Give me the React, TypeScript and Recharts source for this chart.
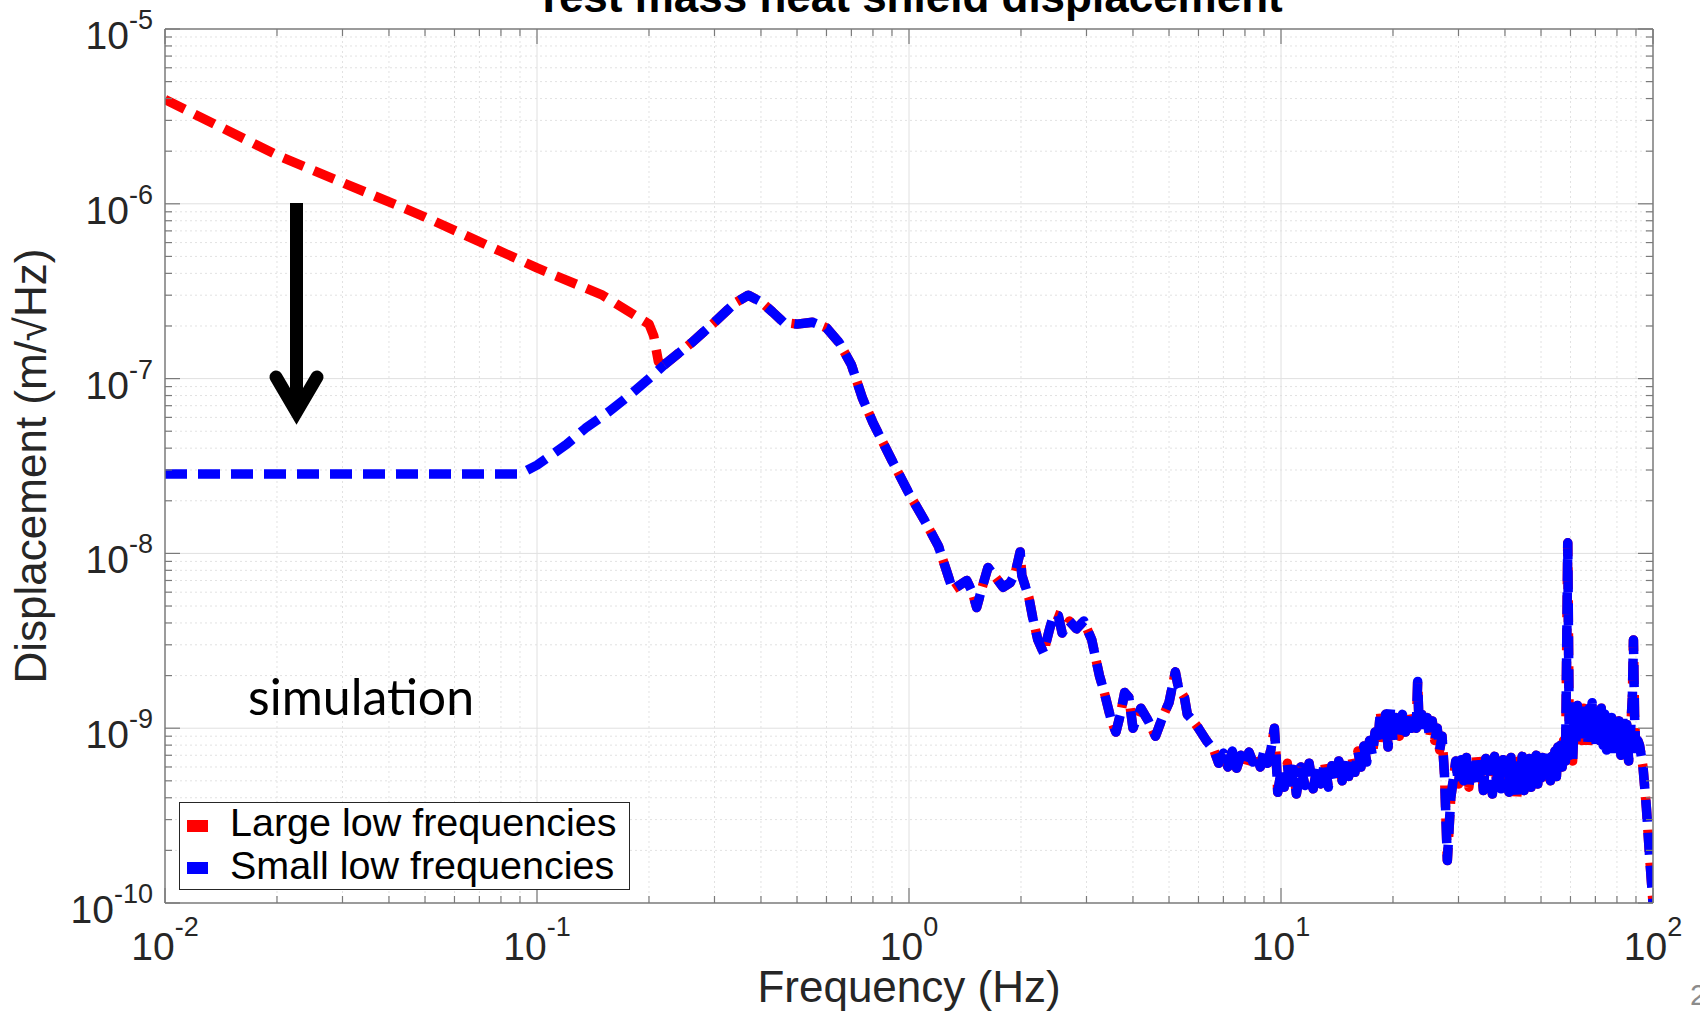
import React from "react";
import { LineChart, Line, XAxis, YAxis, ReferenceLine, Legend } from "recharts";

// low-frequency part of each curve (Hz, m/rtHz)
const largeLowFreq = [0.01, 0.02, 0.05, 0.1, 0.15, 0.2, 0.206, 0.212, 0.22];
const largeLowDisp = [3.95e-6, 1.9e-6, 8.4e-7, 4.3e-7, 3.0e-7, 2.05e-7, 1.75e-7, 1.25e-7, 1.2e-7];

const smallLowFreq = [0.01, 0.05, 0.09, 0.1, 0.12, 0.135, 0.155, 0.177, 0.2, 0.22];
const smallLowDisp = [2.85e-8, 2.85e-8, 2.85e-8, 3.2e-8, 4.2e-8, 5.2e-8, 6.4e-8, 8.0e-8, 1.0e-7, 1.2e-7];

// above ~0.22 Hz both curves are the same
const sharedFreq = [
  0.22, 0.26, 0.3, 0.34, 0.37, 0.4, 0.43, 0.46, 0.5, 0.55, 0.6, 0.65, 0.7, 0.75, 0.8, 0.9, 1.0, 1.1, 1.2,
  1.26, 1.31, 1.37, 1.43, 1.48, 1.52, 1.57, 1.63, 1.71, 1.79, 1.87, 1.93, 1.99, 2.01, 2.1, 2.15, 2.22, 2.3,
  2.38, 2.45, 2.52, 2.58, 2.7, 2.82, 2.95, 3.1, 3.25, 3.35, 3.5, 3.6, 3.7, 3.8, 3.9, 4.0, 4.2, 4.4, 4.6,
  4.8, 5.0, 5.2, 5.3, 5.5, 5.6, 5.8, 6.0, 6.3,
  6.6, 6.8, 7.0, 7.2, 7.4, 7.6, 7.8, 8.0, 8.2, 8.4, 8.6, 8.8, 9.0, 9.2, 9.4, 9.6, 9.7, 9.8,
  10.0, 10.2, 10.4, 10.6, 10.8, 11.0, 11.3, 11.6, 11.9, 12.2, 12.5, 12.8, 13.1, 13.4, 13.7, 14.0, 14.3,
  14.6, 14.9, 15.2, 15.5, 15.8, 16.1, 16.4, 16.7, 17.0, 17.3, 17.6, 17.9, 18.2, 18.5, 18.8, 19.1, 19.4,
  19.7, 20.0, 20.4, 20.8, 21.2, 21.6, 22.0, 22.4, 22.8, 23.1, 23.3, 23.5, 23.9, 24.3, 24.7, 25.1, 25.5,
  25.9, 26.3, 26.7, 27.1, 27.5, 28.0, 28.6, 29.2,
  29.5, 30.0, 30.5, 31.0, 31.5, 32.0, 32.5, 33.0, 33.5, 34.0, 34.5, 35.0, 35.5, 36.0, 36.5, 37.0, 37.5,
  38.0, 38.5, 39.0, 39.5, 40.0, 40.5, 41.0, 41.5, 42.0, 42.5, 43.0, 43.5, 44.0, 44.5, 45.0, 45.5, 46.0,
  46.5, 47.0, 47.5, 48.0, 48.5, 49.0, 49.5, 50.0, 50.5, 51.0, 51.5, 52.0, 52.5, 53.0, 53.5, 54.0, 54.5,
  55.0, 55.5, 56.0, 56.5, 57.0, 57.5, 58.2, 59.0, 59.6, 60.2, 60.8, 61.4, 62.0, 62.6, 63.2, 63.8, 64.4,
  65.0, 65.6, 66.2, 66.8, 67.4, 68.0, 68.6, 69.2, 69.8, 70.4, 71.0, 71.8, 72.6, 73.4, 74.2, 75.0, 75.8,
  76.6, 77.4, 78.2, 79.0, 80.0, 81.0, 82.0, 83.0, 84.0, 85.0, 86.0, 87.0, 88.0, 88.6, 89.2, 90.0, 91.0,
  92.0, 94.0, 96.0, 98.0, 100,
];
const sharedDisp = [
  1.2e-7, 1.6e-7, 2.1e-7, 2.7e-7, 3.0e-7, 2.75e-7, 2.4e-7, 2.1e-7, 2.05e-7, 2.1e-7, 1.95e-7, 1.6e-7, 1.2e-7,
  7.7e-8, 5.6e-8, 3.4e-8, 2.2e-8, 1.55e-8, 1.1e-8,
  8e-9, 6.2e-9, 6.6e-9, 7.0e-9, 6.0e-9, 4.9e-9, 6.3e-9, 8.3e-9, 7.3e-9, 6.4e-9, 6.8e-9, 7.7e-9, 1.02e-8,
  7.5e-9, 5.6e-9, 4.3e-9, 3.2e-9, 2.7e-9, 3.6e-9, 4.5e-9, 4.4e-9, 3.5e-9, 4.1e-9, 3.7e-9, 4.1e-9, 3.2e-9,
  2.0e-9, 1.6e-9, 1.1e-9, 9.5e-10, 1.2e-9, 1.6e-9, 1.5e-9, 1.0e-9, 1.3e-9, 1.1e-9, 9e-10, 1.15e-9, 1.4e-9,
  2.1e-9, 1.7e-9, 1.5e-9, 1.2e-9, 1.1e-9, 1.0e-9, 8.5e-10,
  7.5e-10, 6.3e-10, 7.2e-10, 6.0e-10, 7.4e-10, 5.9e-10, 7.0e-10, 6.1e-10, 7.3e-10, 6.4e-10, 7.0e-10, 6.0e-10,
  7.4e-10, 6.3e-10, 7.6e-10, 1.0e-9, 7.0e-10, 4.3e-10,
  5.6e-10, 4.6e-10, 6.3e-10, 4.4e-10, 5.8e-10, 4.2e-10, 6.0e-10, 4.7e-10, 6.3e-10, 4.5e-10, 5.9e-10, 4.8e-10,
  6.4e-10, 4.6e-10, 6.1e-10, 4.9e-10, 6.5e-10,
  5.0e-10, 6.6e-10, 5.3e-10, 6.9e-10, 5.6e-10, 7.4e-10, 6.0e-10, 7.9e-10, 6.4e-10, 8.5e-10, 7.0e-10, 9.5e-10,
  8.0e-10, 1.25e-9, 8.5e-10, 1.2e-9, 7.8e-10,
  1.3e-9, 8.5e-10, 1.15e-9, 9.0e-10, 1.2e-9, 9.5e-10, 1.25e-9, 1.0e-9, 1.2e-9, 1.0e-9, 1.85e-9, 1.05e-9,
  1.2e-9, 9.5e-10, 1.15e-9, 8.8e-10, 1.1e-9,
  8.5e-10, 1.0e-9, 7.5e-10, 9.0e-10, 5.5e-10, 1.75e-10, 4.0e-10, 5.5e-10,
  6.5e-10, 4.8e-10, 6.6e-10, 5.0e-10, 6.8e-10, 4.6e-10, 6.4e-10, 5.2e-10, 7.0e-10, 4.7e-10, 6.2e-10, 4.4e-10,
  6.7e-10, 5.1e-10, 6.3e-10, 4.2e-10, 6.9e-10,
  4.9e-10, 6.4e-10, 4.5e-10, 6.6e-10, 5.3e-10, 6.1e-10, 4.3e-10, 6.8e-10, 4.7e-10, 6.3e-10, 3.9e-10, 6.5e-10,
  4.8e-10, 6.9e-10, 4.4e-10, 6.2e-10, 5.0e-10,
  6.7e-10, 4.6e-10, 6.4e-10, 5.1e-10, 7.0e-10, 4.8e-10, 6.5e-10, 5.2e-10, 6.8e-10, 4.9e-10, 6.6e-10, 5.4e-10,
  7.2e-10, 5.0e-10, 6.9e-10, 5.6e-10, 7.4e-10,
  5.3e-10, 7.8e-10, 5.8e-10, 8.0e-10, 6.0e-10, 8.5e-10, 6.5e-10, 1.15e-8, 7e-10, 9e-10, 6.5e-10, 1.1e-9,
  8e-10, 1.35e-9, 9.5e-10, 1.4e-9, 8.5e-10,
  1.3e-9, 9.0e-10, 1.35e-9, 8.0e-10, 1.3e-9, 9.5e-10, 1.4e-9, 8.5e-10, 1.25e-9, 7.8e-10, 1.2e-9, 8.5e-10,
  1.3e-9, 8.0e-10, 1.2e-9, 7.5e-10, 1.25e-9,
  8.2e-10, 1.15e-9, 7.2e-10, 1.2e-9, 8.0e-10, 1.1e-9, 7.0e-10, 1.15e-9, 7.5e-10, 1.05e-9, 6.5e-10, 9.5e-10,
  1.5e-9, 3.2e-9, 1.2e-9, 7e-10, 8.5e-10,
  8e-10, 6e-10, 3.5e-10, 1.8e-10, 1.0e-10,
];

const seriesNames = ["Large low frequencies", "Small low frequencies"];
const seriesColors = ["#ff0000", "#0000ff"];

const decades = [0.01, 0.1, 1, 10];
const yDecades = [1e-10, 1e-9, 1e-8, 1e-7, 1e-6];
const mult = [2, 3, 4, 5, 6, 7, 8, 9];

const xMinor = decades.flatMap((d) => mult.map((m) => +(d * m).toPrecision(3)));
const yMinor = yDecades.flatMap((d) => mult.map((m) => +(d * m).toPrecision(3)));
const xMajor = [0.01, 0.1, 1, 10, 100];
const yMajor = [1e-10, 1e-9, 1e-8, 1e-7, 1e-6, 1e-5];
const xTicks = [...xMajor, ...xMinor].sort((a, b) => a - b);
const yTicks = [...yMajor, ...yMinor].sort((a, b) => a - b);

const zip = (f: number[], v: number[]) => f.map((x, i) => ({ f: x, v: v[i] }));
const largeLow = zip(largeLowFreq, largeLowDisp);
const smallLow = zip(smallLowFreq, smallLowDisp);
const shared = zip(sharedFreq, sharedDisp);

const AXIS = "#7a7a7a";
const FONT = "'Liberation Sans', Arial, Helvetica, sans-serif";
const isMajor = (v: number) => Math.abs(Math.log10(v) - Math.round(Math.log10(v))) < 1e-6;
const expOf = (v: number) => Math.round(Math.log10(v));

const BottomTick = (p: any) => {
  const v = p.payload.value;
  const major = isMajor(v);
  return (
    <g>
      <line x1={p.x} x2={p.x} y1={p.y} y2={p.y - (major ? 15 : 7)} stroke={AXIS} strokeWidth={1.2} />
      {major && (
        <text x={p.x} y={p.y + 57} textAnchor="middle" fontFamily={FONT} fontSize={39} fill="#262626">
          10<tspan dy={-24} fontSize={27}>{expOf(v)}</tspan>
        </text>
      )}
    </g>
  );
};

const TopTick = (p: any) => {
  const major = isMajor(p.payload.value);
  return <line x1={p.x} x2={p.x} y1={p.y} y2={p.y + (major ? 15 : 7)} stroke={AXIS} strokeWidth={1.2} />;
};

const LeftTick = (p: any) => {
  const v = p.payload.value;
  const major = isMajor(v);
  return (
    <g>
      <line x1={p.x} x2={p.x + (major ? 15 : 7)} y1={p.y} y2={p.y} stroke={AXIS} strokeWidth={1.2} />
      {major && (
        <text x={p.x - 12} y={p.y + 20} textAnchor="end" fontFamily={FONT} fontSize={39} fill="#262626">
          10<tspan dy={-20} fontSize={27}>{expOf(v)}</tspan>
        </text>
      )}
    </g>
  );
};

const RightTick = (p: any) => {
  const major = isMajor(p.payload.value);
  return <line x1={p.x} x2={p.x - (major ? 15 : 7)} y1={p.y} y2={p.y} stroke={AXIS} strokeWidth={1.2} />;
};

const LegendBox = () => (
  <svg width={470} height={88} style={{ display: "block", overflow: "visible" }}>
    <rect x={0.5} y={0.5} width={450} height={87} fill="#fff" stroke="#262626" strokeWidth={1} />
    {seriesNames.map((name, i) => (
      <g key={name}>
        <rect x={8} y={18 + i * 42} width={21} height={12} fill={seriesColors[i]} />
        <text x={51} y={34 + i * 43} fontFamily={FONT} fontSize={39.5} fill="#000">
          {name}
        </text>
      </g>
    ))}
  </svg>
);

const lineProps = {
  xAxisId: "b",
  yAxisId: "l",
  dataKey: "v",
  type: "linear" as const,
  dot: false,
  activeDot: false,
  strokeWidth: 9.5,
  strokeDasharray: "22 11",
  strokeLinejoin: "round" as const,
  isAnimationActive: false,
  legendType: "none" as const,
};

export default function App() {
  return (
    <div style={{ position: "absolute", left: 0, top: 0, width: 1700, height: 1016, background: "#fff" }}>
      <LineChart width={1700} height={1016} margin={{ top: 19, right: 37, bottom: 33, left: 15 }}>
        <XAxis xAxisId="b" dataKey="f" type="number" scale="log" domain={[0.01, 100]} allowDataOverflow
          ticks={xTicks} interval={0} tick={<BottomTick />} tickLine={false} tickSize={0} tickMargin={0}
          axisLine={{ stroke: AXIS, strokeWidth: 1.5 }} height={80} />
        <XAxis xAxisId="t" orientation="top" dataKey="f" type="number" scale="log" domain={[0.01, 100]}
          allowDataOverflow ticks={xTicks} interval={0} tick={<TopTick />} tickLine={false} tickSize={0}
          tickMargin={0} axisLine={{ stroke: AXIS, strokeWidth: 1.5 }} height={10} />
        <YAxis yAxisId="l" type="number" scale="log" domain={[1e-10, 1e-5]} allowDataOverflow ticks={yTicks}
          interval={0} tick={<LeftTick />} tickLine={false} tickSize={0} tickMargin={0}
          axisLine={{ stroke: AXIS, strokeWidth: 1.5 }} width={150} />
        <YAxis yAxisId="r" orientation="right" type="number" scale="log" domain={[1e-10, 1e-5]} allowDataOverflow
          ticks={yTicks} interval={0} tick={<RightTick />} tickLine={false} tickSize={0} tickMargin={0}
          axisLine={{ stroke: AXIS, strokeWidth: 1.5 }} width={10} />

        {xMinor.map((v) => (
          <ReferenceLine key={"xm" + v} xAxisId="b" yAxisId="l" x={v} stroke="#e2e2e2" strokeDasharray="2 3" />
        ))}
        {yMinor.map((v) => (
          <ReferenceLine key={"ym" + v} xAxisId="b" yAxisId="l" y={v} stroke="#e2e2e2" strokeDasharray="2 3" />
        ))}
        {[0.1, 1, 10].map((v) => (
          <ReferenceLine key={"xM" + v} xAxisId="b" yAxisId="l" x={v} stroke="#e0e0e0" />
        ))}
        {[1e-9, 1e-8, 1e-7, 1e-6].map((v) => (
          <ReferenceLine key={"yM" + v} xAxisId="b" yAxisId="l" y={v} stroke="#e0e0e0" />
        ))}

        <Line {...lineProps} data={largeLow} name={seriesNames[0]} stroke={seriesColors[0]} />
        <Line {...lineProps} data={shared} name={seriesNames[0] + " (shared)"} stroke={seriesColors[0]}
          strokeDashoffset={3} />
        <Line {...lineProps} data={smallLow} name={seriesNames[1]} stroke={seriesColors[1]} />
        <Line {...lineProps} data={shared} name={seriesNames[1] + " (shared)"} stroke={seriesColors[1]} />

        <Legend layout="horizontal" verticalAlign="middle" align="center" content={<LegendBox />}
          wrapperStyle={{ left: 179, top: 802, width: 470, height: 88 }} />
      </LineChart>

      <svg width={1700} height={1016} style={{ position: "absolute", left: 0, top: 0, pointerEvents: "none" }}>
        <text x={909} y={12} textAnchor="middle" fontFamily={FONT} fontWeight="bold" fontSize={44} fill="#000">
          Test mass heat shield displacement
        </text>
        <text x={909} y={1002} textAnchor="middle" fontFamily={FONT} fontSize={44} fill="#262626">
          Frequency (Hz)
        </text>
        <text x={46} y={466} transform="rotate(-90, 46, 466)" textAnchor="middle" fontFamily={FONT}
          fontSize={44} fill="#262626">
          Displacement (m/√Hz)
        </text>
        <text x={248} y={715} fontFamily="Lato, 'Open Sans', sans-serif" fontSize={50} fill="#000">
          simulation
        </text>
        <line x1={296.5} x2={296.5} y1={203} y2={408} stroke="#000" strokeWidth={13} />
        <polyline points="276,377 296.5,412 317,377" fill="none" stroke="#000" strokeWidth={13}
          strokeLinecap="round" strokeLinejoin="miter" />
        <text x={1690} y={1005} fontFamily={FONT} fontSize={30} fill="#8c8c8c">
          2
        </text>
      </svg>
    </div>
  );
}
